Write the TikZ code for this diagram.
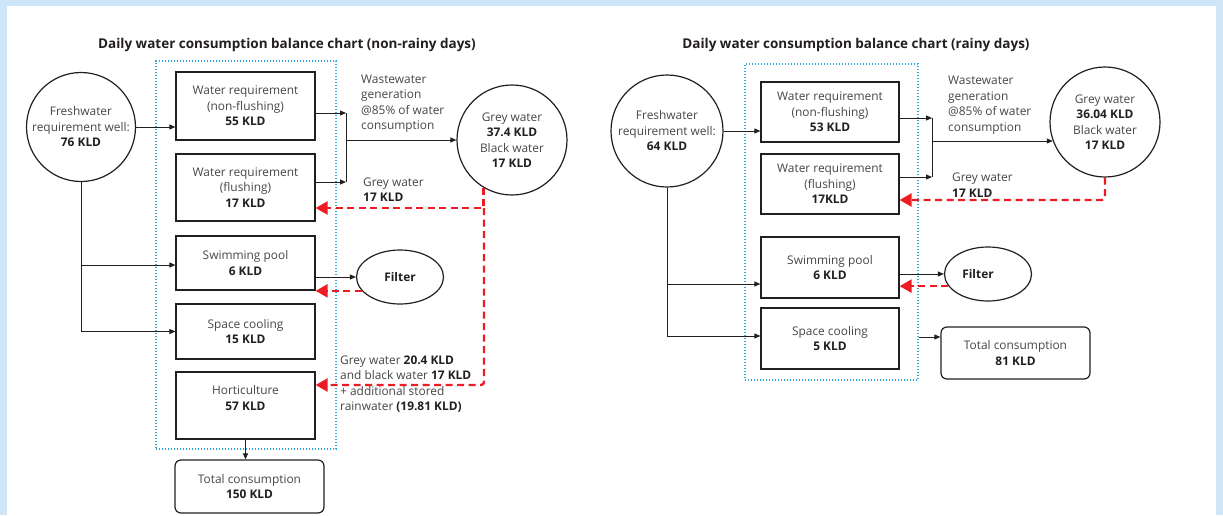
\documentclass[tikz,border=0pt]{standalone}
\usepackage{fontspec}
\setmainfont{Open Sans}
\usetikzlibrary{arrows.meta,shapes.geometric,calc}
\definecolor{bgblue}{HTML}{CFE5F8}
\definecolor{dotblue}{HTML}{29A8E0}
\definecolor{flowred}{HTML}{ED1C24}
\definecolor{ink}{HTML}{231F20}
\definecolor{softink}{HTML}{474747}
\newcommand\kld[1]{\textcolor{ink}{\textbf{#1}}}

\begin{document}
\begin{tikzpicture}[x=1pt,y=-1pt,
  every node/.style={font=\fontsize{11.9}{15.5}\selectfont, text=softink},
  box/.style={draw=ink, line width=1.2pt, minimum width=139pt, align=center, inner sep=0pt},
  rbox/.style={box, rounded corners=6pt, minimum width=149pt},
  circ/.style={draw=ink, line width=1.2pt, circle, align=center, inner sep=0pt},
  oval/.style={draw=ink, line width=1.2pt, ellipse, inner sep=0pt, minimum width=87pt, minimum height=54pt, font=\bfseries\fontsize{11.9}{15.5}\selectfont, text=ink},
  group/.style={draw=dotblue, line width=1.2pt, dash pattern=on 1.4pt off 1.6pt, inner sep=0pt},
  title/.style={font=\bfseries\fontsize{13.5}{16}\selectfont, text=ink},
  note/.style={anchor=west, align=left, inner sep=0pt},
  arr/.style={draw=ink, line width=0.9pt, -{Triangle[length=6pt,width=5pt]}},
  link/.style={draw=ink, line width=0.9pt},
  rarr/.style={draw=flowred, line width=2.4pt, dash pattern=on 7pt off 4.5pt, -{Triangle[length=12pt,width=13pt]}},
  rline/.style={draw=flowred, line width=2.4pt, dash pattern=on 7pt off 4.5pt}
]
\useasboundingbox (0,0) rectangle (1223,515);
\fill[bgblue] (0,0) rectangle (1223,515);
\fill[white] (7,6) rectangle (1216,515);

% ---------- non-rainy days ----------
\node[title] (t1) at (287,45) {Daily water consumption balance chart (non-rainy days)};
\node[group, minimum width=180pt, minimum height=388pt] (grp1) at (246,255) {};

\node[circ, minimum size=109pt] (fw1) at (81,127) {Freshwater\\requirement well:\\\kld{76 KLD}};
\node[box, minimum height=68pt] (b1) at (245.5,106) {Water requirement\\(non-flushing)\\\kld{55 KLD}};
\node[box, minimum height=67pt] (b2) at (245.5,187.5) {Water requirement\\(flushing)\\\kld{17 KLD}};
\node[box, minimum height=54pt] (b3) at (245.5,263) {Swimming pool\\\kld{6 KLD}};
\node[box, minimum height=55pt] (b4) at (245.5,331.5) {Space cooling\\\kld{15 KLD}};
\node[box, minimum height=67pt] (b5) at (245.5,405.5) {Horticulture\\\kld{57 KLD}\\~};
\node[rbox, minimum height=53pt] (tot1) at (249.5,486.5) {Total consumption\\\kld{150 KLD}};
\node[circ, minimum size=110pt] (gw1) at (512,140) {Grey water\\\kld{37.4 KLD}\\Black water\\\kld{17 KLD}};
\node[oval] (f1) at (400,277) {Filter};

\node[note] (w1) at (361,103.5) {Wastewater\\generation\\@85\% of water\\consumption};
\node[note] (g1) at (363,189.5) {Grey water\\\kld{17 KLD}};
\node[note] (h1) at (340,384) {Grey water \kld{20.4 KLD}\\and black water \kld{17 KLD}\\+ additional stored\\rainwater \kld{(19.81 KLD)}};

\coordinate (jt1) at (346,113);
\coordinate (jb1) at (346,182);
\coordinate (sp1) at (81,265);
\coordinate (rc1) at (484,208);
\coordinate (rc2) at (484,385);

\draw[arr] (fw1.east) -- (fw1.east -| b1.west);
\draw[link] (fw1.south) -- (fw1.south |- b4.west);
\draw[arr] (sp1) -- (sp1 -| b3.west);
\draw[arr] (fw1.south |- b4.west) -- (b4.west);
\draw[arr] (b1.east |- jt1) -- (jt1);
\draw[arr] (b2.east |- jb1) -- (jb1);
\draw[link] (jt1) -- (jb1);
\draw[arr] (gw1.west -| jt1) -- (gw1.west);
\draw[arr] (f1.west -| b3.east) -- (f1.west);
\draw[rarr] (f1.200) -- (f1.200 -| b3.east);
\draw[rarr] (gw1.-121) |- (b2.east |- rc1);
\draw[rarr, rounded corners=3pt] (rc1) -- (rc2) -- (b5.east |- rc2);
\draw[arr] (b5.south) -- (b5.south |- tot1.north);

% ---------- rainy days ----------
\node[title] (t2) at (856,45) {Daily water consumption balance chart (rainy days)};
\node[group, minimum width=173pt, minimum height=316pt] (grp2) at (831.5,222) {};

\node[circ, minimum size=112pt] (fw2) at (667,131) {Freshwater\\requirement well:\\\kld{64 KLD}};
\node[box, minimum width=138pt, minimum height=60pt] (b6) at (830,112) {Water requirement\\(non-flushing)\\\kld{53 KLD}};
\node[box, minimum width=138pt, minimum height=60pt] (b7) at (830,184) {Water requirement\\(flushing)\\\kld{17KLD}};
\node[box, minimum width=138pt, minimum height=61pt] (b8) at (830,267.5) {Swimming pool\\\kld{6 KLD}};
\node[box, minimum width=138pt, minimum height=61pt] (b9) at (830,338.5) {Space cooling\\\kld{5 KLD}};
\node[circ, minimum size=110pt] (gw2) at (1105,122) {Grey water\\\kld{36.04 KLD}\\Black water\\\kld{17 KLD}};
\node[oval] (f2) at (988,274) {Filter\hspace*{20pt}};
\node[rbox, minimum height=52pt] (tot2) at (1015.5,353) {Total consumption\\\kld{81 KLD}};

\node[note] (w2) at (948,105) {Wastewater\\generation\\@85\% of water\\consumption};
\node[note] (g2) at (952,185) {Grey water\\\kld{17 KLD}};

\coordinate (jt2) at (932,118);
\coordinate (jb2) at (932,177);
\coordinate (sp2) at (667,284);
\coordinate (sc2) at (667,336);
\coordinate (rc3) at (1105,200);
\coordinate (ac2) at (930,337);

\draw[arr] (fw2.east) -- (fw2.east -| b6.west);
\draw[link] (fw2.south) -- (sc2);
\draw[arr] (sp2) -- (sp2 -| b8.west);
\draw[arr] (sc2) -- (sc2 -| b9.west);
\draw[arr] (b6.east |- jt2) -- (jt2);
\draw[arr] (b7.east |- jb2) -- (jb2);
\draw[link] (jt2) -- (jb2);
\draw[arr] (gw2.200 -| jt2) -- (gw2.200);
\draw[arr] (f2.west -| b8.east) -- (f2.west);
\draw[rarr] (f2.197) -- (f2.197 -| b8.east);
\draw[rarr, rounded corners=3pt] (gw2.south) -- (rc3) -- (b7.east |- rc3);
\draw[arr] (grp2.east |- ac2) -- (tot2.west |- ac2);
\end{tikzpicture}
\end{document}
